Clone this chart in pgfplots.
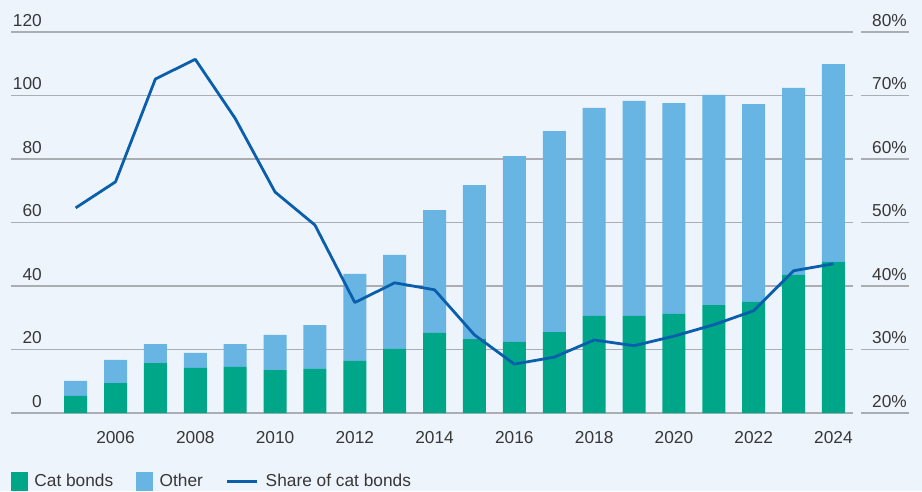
\documentclass[border=0pt]{standalone}
\usepackage{fontspec}
\setmainfont{Liberation Sans}
\usepackage{pgfplots}
\usepackage{pgfplotstable}
\pgfplotsset{compat=1.18}

\definecolor{bgc}{RGB}{238,244,252}
\definecolor{catgreen}{RGB}{0,166,136}
\definecolor{otherblue}{RGB}{104,181,228}
\definecolor{shareline}{RGB}{10,95,172}
\definecolor{gridc}{RGB}{170,173,178}
\definecolor{txt}{RGB}{55,55,55}

\pgfplotstableread{
year cat other share
2005 5.4 4.7 52.3
2006 9.4 7.3 56.4
2007 15.7 6.0 72.6
2008 14.2 4.7 75.7
2009 14.5 7.2 66.4
2010 13.5 11.1 54.8
2011 13.9 13.8 49.6
2012 16.4 27.4 37.4
2013 20.2 29.6 40.5
2014 25.2 38.7 39.4
2015 23.3 48.5 32.3
2016 22.4 58.5 27.7
2017 25.5 63.3 28.8
2018 30.6 65.5 31.5
2019 30.6 67.7 30.6
2020 31.2 66.4 32.1
2021 34.0 66.2 33.9
2022 35.0 62.3 36.1
2023 43.5 58.9 42.4
2024 47.6 62.3 43.5
}\datatable

\newcommand{\lbl}{\fontsize{17.3}{20}\selectfont\color{txt}}

\pgfplotsset{
  common/.style={
    anchor=south west, scale only axis, height=381pt,
    axis line style={draw=none}, major tick length=0pt,
    grid style={gridc, line width=1.2pt},
    tick label style={font=\lbl},
    /pgf/number format/assume math mode=true,
  },
}

\begin{document}
\begin{tikzpicture}
\fill[bgc] (0pt,0pt) rectangle (922pt,491pt);

% bars, left axis
\begin{axis}[common,
  at={(11pt,78pt)}, width=842pt,
  xmin=2003.38, xmax=2024.49,
  ymin=0, ymax=120, ytick={0,20,...,120},
  ymajorgrids,
  xtick={2006,2008,...,2024},
  xticklabel style={/pgf/number format/1000 sep={}, yshift=-15pt},
  yticklabel style={anchor=base east, xshift=34.3pt, yshift=6pt},
  ybar stacked, bar width=23pt,
]
\addplot[fill=catgreen, draw=none] table[x=year, y=cat] {\datatable};
\addplot[fill=otherblue, draw=none] table[x=year, y=other] {\datatable};
\end{axis}

% share line, right scale
\begin{axis}[common,
  at={(11pt,78pt)}, width=842pt,
  xmin=2003.38, xmax=2024.49,
  ymin=20, ymax=80,
  xtick=\empty, ytick=\empty,
  legend columns=3,
  legend style={at={(0,0)}, anchor=north west, yshift=-59pt,
    draw=none, fill=none, inner sep=0pt, outer sep=0pt,
    font=\lbl, nodes={inner sep=0pt},
    /tikz/every odd column/.append style={column sep=7pt},
    /tikz/every even column/.append style={column sep=23pt}},
]
\addlegendimage{legend image code/.code={\fill[catgreen] (0pt,-9pt) rectangle (16pt,9pt);}}
\addlegendentry{Cat bonds}
\addlegendimage{legend image code/.code={\fill[otherblue] (0pt,-9pt) rectangle (16pt,9pt);}}
\addlegendentry{Other}
\addplot[shareline, line width=2.8pt, line join=round,
  legend image code/.code={\draw[shareline, line width=2.8pt] (0pt,0pt) -- (30pt,0pt);}]
  table[x=year, y=share] {\datatable};
\addlegendentry{Share of cat bonds}
\end{axis}

% right axis labels and short grid segments
\begin{axis}[common,
  at={(861pt,78pt)}, width=48pt,
  xmin=0, xmax=1, ymin=20, ymax=80,
  ytick={20,30,...,80}, xtick=\empty,
  ymajorgrids,
  yticklabel pos=right,
  yticklabel={\pgfmathprintnumber{\tick}\%},
  yticklabel style={anchor=base east, xshift=1.3pt, yshift=6pt},
]
\end{axis}
\end{tikzpicture}
\end{document}
